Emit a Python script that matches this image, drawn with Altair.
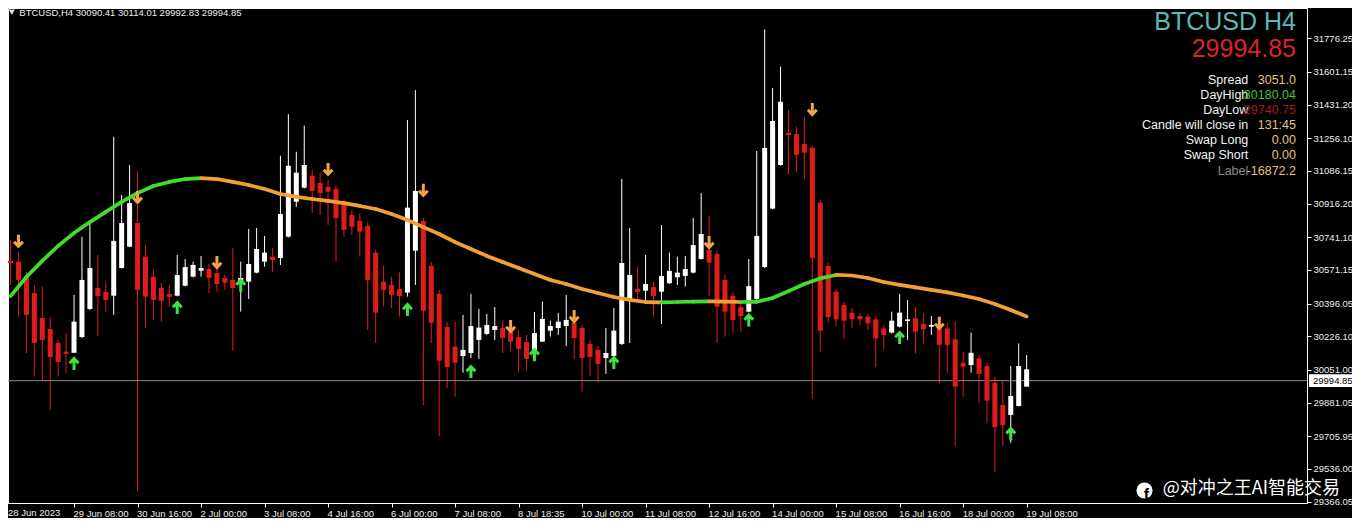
import altair as alt
import pandas as pd

# ---------------- data (bar index 0 = 28 Jun 2023 00:00, H4 bars) ----------------
opens = [30618, 30614, 30536, 30451, 30321, 30264, 30191, 30146, 30140, 30222,
         30368, 30477, 30456, 30437, 30581, 30692, 30815, 30640, 30536, 30477,
         30446, 30437, 30489, 30536, 30567, 30576, 30555, 30529, 30519, 30510,
         30510, 30557, 30614, 30640, 30633, 30744, 30926, 30999, 31061, 31023,
         31004, 30992, 30919, 30857, 30826, 30800, 30661, 30510, 30493, 30472,
         30453, 30671, 30826, 30592, 30446, 30274, 30172, 30123, 30139, 30207,
         30238, 30259, 30269, 30250, 30222, 30196, 30155, 30198, 30255, 30269,
         30279, 30297, 30269, 30186, 30155, 30113, 30123, 30186, 30415, 30473,
         30463, 30482, 30458, 30502, 30533, 30540, 30557, 30628, 30675, 30654,
         30519, 30437, 30378, 30354, 30420, 30586, 30890, 31117, 31284, 31278,
         31226, 31207, 30921, 30592, 30458, 30389, 30349, 30331, 30328, 30314,
         30267, 30245, 30276, 30305, 30319, 30290, 30276, 30285, 30267, 30210,
         30088, 30076, 30111, 30071, 29984, 29868, 29816, 29863, 29964]
highs = [30727, 30666, 30560, 30493, 30484, 30328, 30207, 30243, 30441, 30744,
         30815, 30649, 30510, 31264, 30961, 31117, 31086, 30701, 30571, 30503,
         30493, 30649, 30628, 30614, 30644, 30602, 30581, 30545, 30685, 30614,
         30784, 30789, 30748, 30685, 31165, 31381, 31186, 31322, 31091, 31079,
         31039, 31013, 30935, 30883, 30867, 30820, 30675, 30592, 30536, 30557,
         31351, 31507, 30841, 30612, 30467, 30300, 30302, 30337, 30446, 30368,
         30342, 30378, 30311, 30307, 30259, 30233, 30352, 30406, 30307, 30347,
         30441, 30321, 30285, 30207, 30175, 30269, 30373, 31044, 30789, 30588,
         30649, 30510, 30805, 30661, 30640, 30644, 30841, 30971, 30852, 30675,
         30545, 30456, 30399, 30628, 31190, 31823, 31518, 31629, 31403, 31316,
         31367, 31216, 30935, 30612, 30472, 30404, 30373, 30349, 30342, 30326,
         30285, 30354, 30446, 30415, 30377, 30347, 30331, 30305, 30295, 30302,
         30144, 30245, 30128, 30087, 30014, 29998, 30071, 30189, 30128]
lows = [30493, 30328, 30139, 30016, 29998, 29842, 30016, 30035, 30139, 30217,
        30363, 30227, 30354, 30337, 30578, 30690, 29417, 30269, 30311, 30302,
        30380, 30433, 30485, 30532, 30536, 30451, 30458, 30467, 30151, 30354,
        30420, 30553, 30588, 30562, 30597, 30740, 30900, 30995, 30867, 30857,
        30805, 30614, 30744, 30753, 30640, 30259, 30191, 30380, 30373, 30328,
        30432, 30493, 29868, 30191, 29707, 29957, 29912, 30036, 30113, 30108,
        30233, 30207, 30139, 30146, 30036, 30047, 30149, 30196, 30224, 30233,
        30175, 30106, 29938, 30019, 29984, 30030, 30118, 30181, 30191, 30415,
        30415, 30328, 30290, 30498, 30493, 30484, 30553, 30625, 30435, 30191,
        30224, 30243, 30250, 30350, 30415, 30581, 30886, 31114, 31070, 31082,
        31044, 29903, 30146, 30295, 30276, 30212, 30269, 30285, 30259, 30065,
        30158, 30240, 30272, 30207, 30137, 30189, 30233, 29981, 30033, 29655,
        29912, 30036, 29877, 29773, 29521, 29655, 29672, 29861, 29962]
closes = [30607, 30519, 30337, 30191, 30207, 30118, 30092, 30134, 30302, 30519,
          30581, 30435, 30415, 30722, 30815, 30919, 30467, 30432, 30415, 30411,
          30430, 30545, 30586, 30597, 30581, 30529, 30498, 30505, 30477, 30529,
          30602, 30680, 30661, 30623, 30862, 31113, 31077, 31117, 30982, 30971,
          30978, 30841, 30779, 30796, 30770, 30519, 30349, 30467, 30441, 30435,
          30895, 30982, 30359, 30297, 30099, 30066, 30088, 30155, 30279, 30271,
          30285, 30279, 30217, 30198, 30160, 30108, 30243, 30316, 30279, 30302,
          30311, 30217, 30113, 30118, 30082, 30139, 30255, 30607, 30545, 30456,
          30498, 30435, 30540, 30566, 30557, 30576, 30701, 30758, 30609, 30380,
          30354, 30311, 30331, 30487, 30748, 31206, 31346, 31446, 31273, 31169,
          31181, 30632, 30255, 30326, 30314, 30307, 30314, 30314, 30293, 30215,
          30233, 30307, 30349, 30314, 30250, 30262, 30285, 30181, 30181, 29964,
          30068, 30140, 30030, 29891, 29752, 29764, 29915, 30071, 30054]

# moving average, read every second bar
ma_idx = list(range(0, 129, 2))
ma_vals = [30435, 30534, 30618, 30696, 30763, 30820, 30873, 30925, 30971, 31008,
           31029, 31044, 31049, 31044, 31029, 31013, 30992, 30966, 30951, 30940,
           30930, 30919, 30904, 30888, 30862, 30831, 30794, 30758, 30716, 30680,
           30644, 30612, 30581, 30550, 30519, 30498, 30472, 30451, 30430, 30415,
           30404, 30402.6, 30404.2, 30405.8, 30407.9, 30406.3, 30404.2, 30405.2, 30425, 30461,
           30498, 30527, 30545, 30542, 30529, 30508, 30493, 30480, 30467, 30454,
           30438, 30420, 30394, 30363, 30329]

# signal arrows
down_idx = [1, 16, 26, 40, 52, 63, 71, 88, 101, 117]
down_px = [30722, 30951, 30612, 31096, 30987, 30279, 30331, 30716, 31408, 30295]
up_idx = [8, 21, 29, 50, 58, 66, 76, 93, 112, 126]
up_px = [30082, 30373, 30490, 30363, 30040, 30128, 30087, 30308, 30217, 29717]

current_price = 29994.85
header_ohlc = ["30090.41", "30114.01", "29992.83", "29994.85"]

tick_labels = ["28 Jun 2023", "29 Jun 08:00", "30 Jun 16:00", "2 Jul 00:00", "3 Jul 08:00",
               "4 Jul 16:00", "6 Jul 00:00", "7 Jul 08:00", "8 Jul 18:35", "10 Jul 00:00",
               "11 Jul 08:00", "12 Jul 16:00", "14 Jul 00:00", "15 Jul 08:00", "16 Jul 16:00",
               "18 Jul 00:00", "19 Jul 08:00"]
tick_idx = [8 * k for k in range(len(tick_labels))]
price_ticks = [31776.25, 31601.15, 31431.20, 31256.10, 31086.15, 30916.20, 30741.10, 30571.15,
               30396.05, 30226.10, 30051.00, 29881.05, 29705.95, 29536.00, 29366.05]

info_labels = ["Spread", "DayHigh", "DayLow", "Candle will close in", "Swap Long", "Swap Short", "Label"]
info_values = ["3051.0", "30180.04", "29740.75", "131:45", "0.00", "0.00", "-16872.2"]
info_label_colors = ["#f2f2f2"] * 6 + ["#8c8c8c"]
info_value_colors = ["#e2c27e", "#3fbf3f", "#a11d1d", "#e2c27e", "#e2c27e", "#e2c27e", "#e2c27e"]

# ---------------- frames ----------------
n = len(opens)
bars = pd.DataFrame({"i": list(range(n)), "open": opens, "high": highs,
                     "low": lows, "close": closes})
bars["dir"] = ["bull" if c >= o else "bear" for o, c in zip(opens, closes)]

rows = []
for k in range(len(ma_vals) - 1):
    trend = "rise" if ma_vals[k + 1] >= ma_vals[k] else "fall"
    rows.append({"i": ma_idx[k], "v": ma_vals[k], "seg": k, "trend": trend})
    rows.append({"i": ma_idx[k + 1], "v": ma_vals[k + 1], "seg": k, "trend": trend})
ma_df = pd.DataFrame(rows)

down_df = pd.DataFrame({"i": down_idx, "p": down_px})
up_df = pd.DataFrame({"i": up_idx, "p": up_px})
price_df = pd.DataFrame({"p": [current_price], "t": [f"{current_price:.2f}"]})

# ---------------- scales / axes ----------------
FONT = "Liberation Sans"
xscale = alt.Scale(domain=[0.3125, 162.6875], nice=False, zero=False)
yscale = alt.Scale(domain=[29358.4, 31933.9], nice=False, zero=False)
cscale = alt.Scale(domain=["bull", "bear", "rise", "fall"],
                   range=["#ffffff", "#e01b1b", "#41dc2c", "#f2a033"])

label_expr = "[" + ",".join(f"'{t}'" for t in tick_labels) + "][round(datum.value/8)]"
xaxis = alt.Axis(values=tick_idx[1:], labelExpr=label_expr, labelAlign="left",
                 labelBaseline="top", labelPadding=1, labelOffset=-1, labelOverlap=False,
                 labelFlush=False, tickSize=4, grid=False, title=None)
yaxis = alt.Axis(orient="right", values=price_ticks, format=".2f", labelAlign="left",
                 labelBaseline="middle", labelPadding=2, labelOverlap=False, labelFlush=False,
                 tickSize=4, grid=False, title=None)


def X():
    return alt.X("i:Q", scale=xscale, axis=xaxis)


def Y(field):
    return alt.Y(field, scale=yscale, axis=yaxis)


wicks = alt.Chart(bars).mark_rule(strokeWidth=1, clip=True).encode(
    x=X(), y=Y("low:Q"), y2="high:Q",
    color=alt.Color("dir:N", scale=cscale, legend=None),
)
bodies = alt.Chart(bars).mark_bar(size=5, clip=True).encode(
    x=X(), y=Y("open:Q"), y2="close:Q",
    color=alt.Color("dir:N", scale=cscale, legend=None),
)
ma_line = alt.Chart(ma_df).mark_line(strokeWidth=3.7, strokeCap="round", clip=True).encode(
    x=X(), y=Y("v:Q"), detail="seg:N",
    color=alt.Color("trend:N", scale=cscale, legend=None),
)

DOWN_PATH = "M0,-1 L0,0.8 M-0.72,0.12 L0,0.88 L0.72,0.12"
UP_PATH = "M0,1 L0,-0.8 M-0.72,-0.12 L0,-0.88 L0.72,-0.12"
down_arrows = alt.Chart(down_df).mark_point(shape=DOWN_PATH, filled=False, size=150,
                                            strokeWidth=3, opacity=1,
                                            color="#f0a646").encode(x=X(), y=Y("p:Q"))
up_arrows = alt.Chart(up_df).mark_point(shape=UP_PATH, filled=False, size=150,
                                        strokeWidth=3, opacity=1,
                                        color="#3fe33f").encode(x=X(), y=Y("p:Q"))

price_line = alt.Chart(price_df).mark_rule(color="#8c8c8c", strokeWidth=1).encode(y=Y("p:Q"))
BOX = "M-1,-0.28 L1,-0.28 L1,0.28 L-1,0.28 Z"
price_box = alt.Chart(price_df).mark_point(shape=BOX, filled=True, size=2116, opacity=1,
                                           color="#ffffff").encode(
    x=alt.value(1324), y=Y("p:Q"))
price_txt = alt.Chart(price_df).mark_text(align="left", baseline="middle", font=FONT,
                                          fontSize=9.5, color="#000000").encode(
    x=alt.value(1305), y=Y("p:Q"), text="t:N")


def label(text, x, y, size, color, align="left", baseline="middle", font=FONT, weight="normal"):
    return alt.Chart(pd.DataFrame({"t": [text]})).mark_text(
        align=align, baseline=baseline, font=font, fontSize=size, color=color,
        fontWeight=weight).encode(x=alt.value(x), y=alt.value(y), text="t:N")


overlays = []
overlays.append(label("28 Jun 2023", 0, 500, 9.5, "#eeeeee", baseline="top"))
overlays.append(alt.Chart(pd.DataFrame({"a": [0]})).mark_point(
    shape="triangle-down", filled=True, size=40, opacity=1, color="#dddddd").encode(
    x=alt.value(3.8), y=alt.value(4.3)))
overlays.append(label("BTCUSD,H4  " + " ".join(header_ohlc), 11.3, 4.5, 9.5, "#eeeeee"))
overlays.append(label("BTCUSD H4", 1288, 21.5, 25, "#5ab9b9", align="right", baseline="alphabetic"))
overlays.append(label(f"{current_price:.2f}", 1288, 49.3, 25, "#d8232a", align="right",
                      baseline="alphabetic"))
row_y = [72, 86.5, 101.5, 117, 132, 147, 162.5]
for lab, val, lc, vc, yy in zip(info_labels, info_values, info_label_colors, info_value_colors, row_y):
    overlays.append(label(lab, 1240.3, yy, 12.5, lc, align="right"))
    overlays.append(label(val, 1288, yy, 12.5, vc, align="right"))

# watermark
overlays.append(alt.Chart(pd.DataFrame({"a": [0]})).mark_point(
    shape="circle", filled=True, size=260, opacity=1, color="#ffffff").encode(
    x=alt.value(1136.5), y=alt.value(482.5)))
overlays.append(label("f", 1138.5, 492, 16, "#000000", align="center", baseline="alphabetic",
                      weight="bold"))
overlays.append(label("@对冲之王AI智能交易", 1154.7, 481, 18, "#ffffff",
                      font="Noto Sans CJK SC"))

chart = alt.layer(
    wicks, price_line, bodies, ma_line, down_arrows, up_arrows, price_box, price_txt, *overlays
).properties(
    width=1299, height=495,
    autosize=alt.AutoSizeParams(type="none"),
    padding={"left": 0, "top": 0, "right": 45, "bottom": 15},
    background="#000000",
).configure_view(
    stroke="#ffffff", strokeWidth=1, fill="#000000"
).configure_axis(
    domainColor="#ffffff", tickColor="#ffffff", labelColor="#eeeeee",
    labelFont=FONT, labelFontSize=9.5, grid=False
)

chart.save("out.html", embed_options={"renderer": "svg", "actions": False})
